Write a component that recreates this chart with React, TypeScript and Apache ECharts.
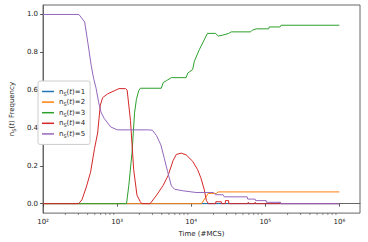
import React, { useEffect, useRef } from "react";
import * as echarts from "echarts";

// ---- data (time in MCS, frequency) ----
const names = ["n_S(t)=1", "n_S(t)=2", "n_S(t)=3", "n_S(t)=4", "n_S(t)=5"];
const colors = ["#1f77b4", "#ff7f0e", "#2ca02c", "#d62728", "#9467bd"];

const t1 = [100, 1e6];
const v1 = [0, 0];

const t2 = [100, 13800, 15500, 17000, 22000, 23000, 1e6];
const v2 = [0, 0, 0.03, 0.054, 0.054, 0.062, 0.062];

const t3 = [100, 1340, 1440, 1590, 1720, 1820, 1950, 2060, 3950, 4190, 4630, 5400, 8540, 8990, 10470, 11020, 12840, 14970, 16560, 21340, 23170, 26180, 32130, 34760, 63500, 66900, 75600, 111000, 113300, 158500, 163300, 1e6];
const v3 = [0, 0, 0.097, 0.27, 0.48, 0.55, 0.596, 0.61, 0.61, 0.64, 0.65, 0.666, 0.666, 0.69, 0.709, 0.752, 0.813, 0.865, 0.9, 0.9, 0.886, 0.89, 0.9, 0.908, 0.908, 0.917, 0.924, 0.924, 0.934, 0.934, 0.943, 0.943];

const t4 = [100, 303, 335, 384, 438, 495, 546, 593, 637, 742, 910, 1060, 1300, 1366, 1514, 1674, 1853, 2055, 2150, 2790, 3415, 4190, 4880, 5690, 6290, 7330, 8540, 10470, 12200, 13490, 14970, 16060, 17060, 21400, 21500, 25500, 25600, 28900, 29000, 32000, 32100, 58000, 59000, 60000, 72000, 73000, 74000, 156000, 158000, 160000, 1e6];
const v4 = [0, 0, 0.02, 0.088, 0.166, 0.29, 0.374, 0.52, 0.56, 0.58, 0.596, 0.608, 0.608, 0.6, 0.44, 0.18, 0.045, 0.01, 0, 0, 0.045, 0.097, 0.149, 0.227, 0.26, 0.267, 0.258, 0.224, 0.18, 0.137, 0.076, 0.016, 0, 0, 0.01, 0.01, 0, 0, 0.016, 0.016, 0, 0, 0.007, 0, 0, 0.007, 0, 0, 0.007, 0, 0];

const t5 = [100, 305, 365, 403, 447, 483, 520, 563, 605, 670, 822, 1008, 2650, 3000, 3400, 3900, 4330, 4800, 5400, 5980, 7700, 11600, 20000, 21300, 27000, 28000, 57000, 58000, 73000, 74000, 103000, 104000, 160000, 162000, 1e6];
const v5 = [1, 1, 0.96, 0.85, 0.73, 0.66, 0.61, 0.536, 0.484, 0.45, 0.405, 0.39, 0.39, 0.388, 0.36, 0.31, 0.24, 0.17, 0.094, 0.076, 0.068, 0.059, 0.059, 0.047, 0.047, 0.036, 0.036, 0.024, 0.024, 0.016, 0.016, 0.007, 0.007, 0, 0];

const times = [t1, t2, t3, t4, t5];
const values = [v1, v2, v3, v4, v5];

const xMajorTicks = [100, 1000, 10000, 100000, 1000000];
const yTicks = [0, 0.2, 0.4, 0.6, 0.8, 1.0];
const supers = ["⁰", "¹", "²", "³", "⁴", "⁵", "⁶", "⁷", "⁸", "⁹"];

const X_MIN = 100;
const X_MAX = 1.9e6;
const Y_MIN = -0.05;
const Y_MAX = 1.05;

// minor tick positions of a log axis (2..9 x 10^n)
const minorTicks: number[] = [];
for (let e = 2; e <= 6; e++) {
  for (let m = 2; m <= 9; m++) {
    const v = m * Math.pow(10, e);
    if (v < X_MAX) minorTicks.push(v);
  }
}

const FONT = "DejaVu Sans";

export default function App() {
  const ref = useRef<HTMLDivElement>(null);
  useEffect(() => {
    if (!ref.current) return;
    const chart = echarts.init(ref.current, undefined, { renderer: "svg" });
    const lineSeries = names.map((name, i) => ({
      name,
      type: "line",
      data: times[i].map((t, j) => [t, values[i][j]]),
      showSymbol: false,
      symbol: "none",
      lineStyle: { color: colors[i], width: 1 },
      itemStyle: { color: colors[i] },
      z: 2 + i,
    }));
    chart.setOption({
      animation: false,
      textStyle: { fontFamily: FONT },
      grid: {
        left: 37.7,
        right: 8,
        top: 5,
        bottom: 26,
        show: true,
        borderColor: "#666",
        borderWidth: 1,
        backgroundColor: "transparent",
      },
      legend: {
        data: names,
        orient: "vertical",
        left: 38,
        top: 81,
        icon: "rect",
        itemWidth: 12,
        itemHeight: 1.5,
        itemGap: 1.6,
        padding: [6, 5, 6, 4],
        backgroundColor: "#fff",
        borderColor: "#ccc",
        borderWidth: 1,
        borderRadius: 2,
        formatter: (name: string) => {
          const k = name.split("=")[1];
          return `{n|n}{sub|S}{n|(}{it|t}{n|)=${k}}`;
        },
        textStyle: {
          fontFamily: FONT,
          fontSize: 7,
          color: "#222",
          lineHeight: 9,
          rich: {
            n: { fontFamily: FONT, fontSize: 7, color: "#222", lineHeight: 9 },
            it: { fontFamily: FONT, fontSize: 7, fontStyle: "italic", color: "#222", lineHeight: 9 },
            sub: { fontFamily: FONT, fontSize: 5, color: "#222", lineHeight: 9, verticalAlign: "bottom" },
          },
        },
      },
      xAxis: {
        type: "log",
        logBase: 10,
        min: X_MIN,
        max: X_MAX,
        name: "Time (#MCS)",
        nameLocation: "middle",
        nameGap: 15,
        nameTextStyle: { fontFamily: FONT, fontSize: 7, color: "#222", verticalAlign: "top" },
        axisLine: { show: true, lineStyle: { color: "#666", width: 1 } },
        axisTick: { show: true, inside: false, length: 3, customValues: xMajorTicks, lineStyle: { color: "#333", width: 0.8 } },
        axisLabel: {
          customValues: xMajorTicks,
          margin: 5,
          fontFamily: FONT,
          fontSize: 7,
          color: "#222",
          formatter: (v: number) => "10" + supers[Math.round(Math.log10(v))],
        },
        splitLine: { show: false },
        minorTick: { show: false },
      },
      yAxis: {
        type: "value",
        min: Y_MIN,
        max: Y_MAX,
        name: "{n|n}{sub|S}{n|(}{it|t}{n|) Frequency}",
        nameLocation: "middle",
        nameGap: 23,
        nameRotate: 90,
        nameTextStyle: {
          fontFamily: FONT,
          fontSize: 7,
          color: "#222",
          rich: {
            n: { fontFamily: FONT, fontSize: 7, color: "#222", lineHeight: 9 },
            it: { fontFamily: FONT, fontSize: 7, fontStyle: "italic", color: "#222", lineHeight: 9 },
            sub: { fontFamily: FONT, fontSize: 5, color: "#222", lineHeight: 9, verticalAlign: "bottom" },
          },
        },
        axisLine: { show: true, lineStyle: { color: "#666", width: 1 } },
        axisTick: { show: true, inside: false, length: 3, customValues: yTicks, lineStyle: { color: "#333", width: 0.8 } },
        axisLabel: {
          customValues: yTicks,
          margin: 5,
          fontFamily: FONT,
          fontSize: 7,
          color: "#222",
          formatter: (v: number) => v.toFixed(1),
        },
        splitLine: { show: false },
      },
      series: [
        ...lineSeries,
        {
          name: "minorTicks",
          type: "custom",
          silent: true,
          clip: false,
          data: minorTicks.map((v) => [v, Y_MIN]),
          renderItem: (params: any, api: any) => {
            const p = api.coord([api.value(0), Y_MIN]);
            return {
              type: "line",
              shape: { x1: p[0], y1: p[1], x2: p[0], y2: p[1] + 2 },
              style: { stroke: "#444", lineWidth: 0.6 },
            };
          },
          z: 1,
        },
      ],
    });
    return () => chart.dispose();
  }, []);
  return <div ref={ref} style={{ width: 368, height: 242, position: "absolute", left: 0, top: 0 }} />;
}
